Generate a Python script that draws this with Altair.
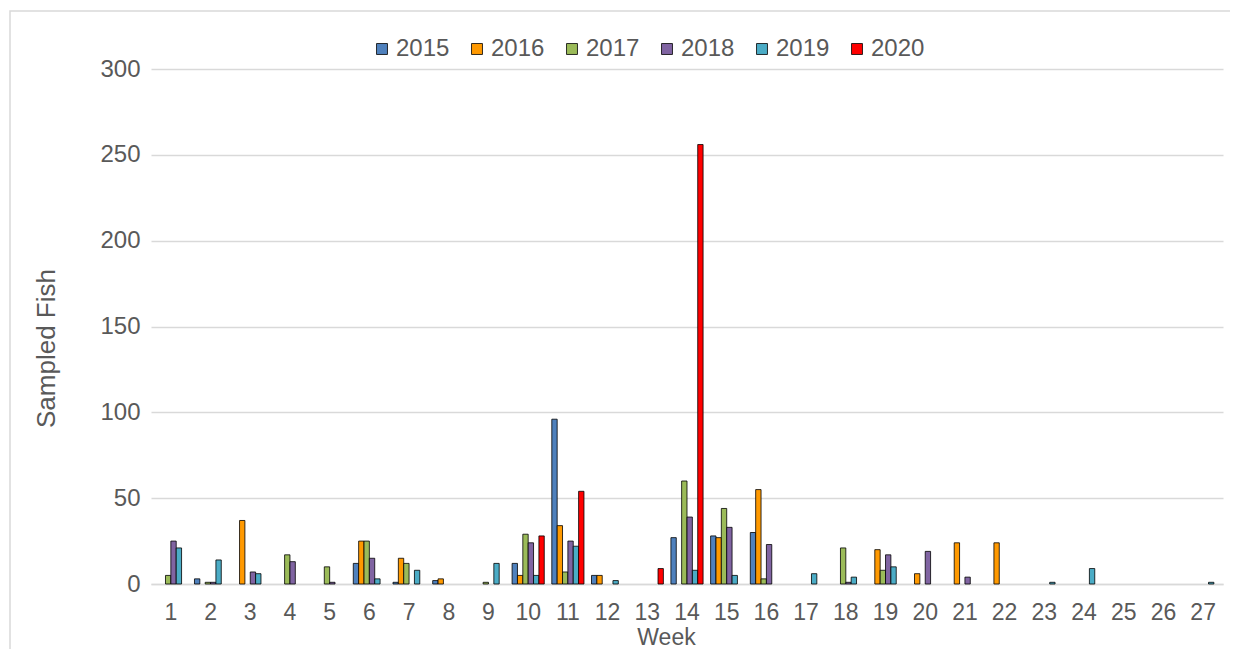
import altair as alt
import pandas as pd

weeks = list(range(1, 28))
years = ["2015", "2016", "2017", "2018", "2019", "2020"]

#            1  2  3  4  5  6  7  8  9 10  11 12 13  14  15  16 17 18 19 20 21 22 23 24 25 26 27
v2015 = [0, 3, 0, 0, 0, 12, 1, 2, 0, 12, 96, 5, 0, 27, 28, 30, 0, 0, 0, 0, 0, 0, 0, 0, 0, 0, 0]
v2016 = [0, 0, 37, 0, 0, 25, 15, 3, 0, 5, 34, 5, 0, 0, 27, 55, 0, 0, 20, 6, 24, 24, 0, 0, 0, 0, 0]
v2017 = [5, 1, 0, 17, 10, 25, 12, 0, 1, 29, 7, 0, 0, 60, 44, 3, 0, 21, 8, 0, 0, 0, 0, 0, 0, 0, 0]
v2018 = [25, 1, 7, 13, 1, 15, 0, 0, 0, 24, 25, 0, 0, 39, 33, 23, 0, 1, 17, 19, 4, 0, 0, 0, 0, 0, 0]
v2019 = [21, 14, 6, 0, 0, 3, 8, 0, 12, 5, 22, 2, 0, 8, 5, 0, 6, 4, 10, 0, 0, 0, 1, 9, 0, 0, 1]
v2020 = [0, 0, 0, 0, 0, 0, 0, 0, 0, 28, 54, 0, 9, 256, 0, 0, 0, 0, 0, 0, 0, 0, 0, 0, 0, 0, 0]

colors = ["#4F81BD", "#FF9900", "#9BBB59", "#8064A2", "#4BACC6", "#FF0000"]

series = [v2015, v2016, v2017, v2018, v2019, v2020]
rows = []
for yr, vals in zip(years, series):
    for w, v in zip(weeks, vals):
        if v > 0:
            rows.append({"week": w, "year": yr, "fish": v})
df = pd.DataFrame(rows)

FONT = "Liberation Sans"
GRAY = "#595959"

bars = alt.Chart(df).mark_bar(stroke="black", strokeWidth=0.8).encode(
    x=alt.X(
        "week:O",
        scale=alt.Scale(domain=weeks, paddingInner=0.19, paddingOuter=0.095),
        axis=alt.Axis(
            title="Week",
            labelAngle=0,
            labelFontSize=23,
            labelColor=GRAY,
            labelFont=FONT,
            labelPadding=17,
            tickSize=0,
            domainColor="#d9d9d9",
            domainWidth=1.5,
            titleFontSize=23,
            titleFont=FONT,
            titleColor=GRAY,
            titleFontWeight="normal",
            titleX=515,
            titleY=60,
            titleBaseline="alphabetic",
            titleAlign="center",
        ),
    ),
    xOffset=alt.XOffset(
        "year:N", scale=alt.Scale(domain=years, paddingInner=0, paddingOuter=0)
    ),
    y=alt.Y(
        "fish:Q",
        scale=alt.Scale(domain=[0, 300]),
        axis=alt.Axis(
            title="Sampled Fish",
            values=[0, 50, 100, 150, 200, 250, 300],
            labelFontSize=24,
            labelColor=GRAY,
            labelFont=FONT,
            labelPadding=11,
            tickSize=0,
            domain=False,
            gridColor="#d9d9d9",
            gridWidth=1.3,
            titleFontSize=26,
            titleFont=FONT,
            titleColor=GRAY,
            titleFontWeight="normal",
            titleX=-105,
            titleY=279,
            titleAngle=-90,
            titleBaseline="middle",
            titleAlign="center",
        ),
    ),
    color=alt.Color(
        "year:N",
        scale=alt.Scale(domain=years, range=colors),
        legend=alt.Legend(
            title=None,
            orient="none",
            legendX=219,
            legendY=-32,
            direction="horizontal",
            symbolType="square",
            symbolSize=120,
            symbolStrokeColor="black",
            symbolStrokeWidth=0.8,
            labelFontSize=24,
            labelFont=FONT,
            labelColor=GRAY,
            labelOffset=2,
            columnPadding=15,
        ),
    ),
)

border = alt.Chart(pd.DataFrame({"a": [0]})).mark_rect(
    fill="transparent", stroke="#d9d9d9", strokeWidth=1.5
).encode(
    x=alt.value(-141), x2=alt.value(1400), y=alt.value(-58), y2=alt.value(800)
)

chart = (
    alt.layer(border, bars)
    .properties(
        width=1072,
        height=515,
        autosize=alt.AutoSizeParams(type="none"),
        padding={"left": 143, "top": 61, "right": 7, "bottom": 65},
    )
    .configure_view(stroke=None)
)

chart.save("out.html", embed_options={"renderer": "svg", "actions": False})
